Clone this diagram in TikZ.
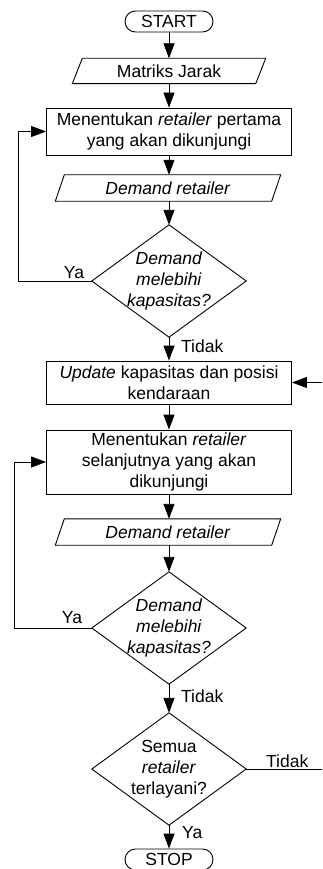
\documentclass[tikz,border=0pt]{standalone}
\usepackage{fontspec}
\setmainfont{Liberation Sans}
\usetikzlibrary{arrows.meta}
\begin{document}
\begin{tikzpicture}[x=1pt,y=-1pt,
  every node/.style={font=\fontsize{17.5}{21}\selectfont, inner sep=0pt},
  proc/.style={draw, rectangle, minimum width=245pt, align=center, line width=0.9pt},
  term/.style={draw, rectangle, rounded corners=10.5pt, minimum width=88pt, minimum height=21pt, line width=0.9pt},
  iobox/.style={rectangle, minimum width=#1, minimum height=25pt, align=center},
  decbox/.style={rectangle, minimum width=154pt, minimum height=112pt, align=center},
  shapeline/.style={line width=0.9pt},
  arr/.style={line width=0.9pt, -{Triangle[length=15pt,width=11pt]}},
  plain/.style={line width=0.9pt}]
\useasboundingbox (0,0) rectangle (322,869);

\node[term] (start) at (169,21.5) {START};
\node[iobox=183pt] (mat) at (169,71) {Matriks Jarak};
\draw[shapeline] ([xshift=5pt]mat.north west) -- ([xshift=5pt]mat.north east) -- ([xshift=-5pt]mat.south east) -- ([xshift=-5pt]mat.south west) -- cycle;

\node[proc, minimum height=47pt] (b1) at (169,131.5) {Menentukan \textit{retailer} pertama\\yang akan dikunjungi};

\node[iobox=216pt, minimum height=26pt] (dem1) at (168,188) {\textit{Demand retailer}};
\draw[shapeline] ([xshift=4.5pt]dem1.north west) -- ([xshift=4.5pt]dem1.north east) -- ([xshift=-4.5pt]dem1.south east) -- ([xshift=-4.5pt]dem1.south west) -- cycle;

\node[decbox] (d1) at (169,281) {\textit{Demand}\\\textit{melebihi}\\\textit{kapasitas?}};
\draw[shapeline] (d1.north) -- (d1.east) -- (d1.south) -- (d1.west) -- cycle;

\node[proc, minimum height=43pt] (upd) at (169,382.5) {\textit{Update} kapasitas dan posisi\\kendaraan};

\node[proc, minimum height=64pt] (b3) at (169,462) {Menentukan \textit{retailer}\\selanjutnya yang akan\\dikunjungi};

\node[iobox=216pt, minimum height=26pt] (dem2) at (168,532) {\textit{Demand retailer}};
\draw[shapeline] ([xshift=4.5pt]dem2.north west) -- ([xshift=4.5pt]dem2.north east) -- ([xshift=-4.5pt]dem2.south east) -- ([xshift=-4.5pt]dem2.south west) -- cycle;

\node[decbox] (d2) at (169,628) {\textit{Demand}\\\textit{melebihi}\\\textit{kapasitas?}};
\draw[shapeline] (d2.north) -- (d2.east) -- (d2.south) -- (d2.west) -- cycle;

\node[decbox] (d3) at (169,769) {Semua\\\textit{retailer}\\terlayani?};
\draw[shapeline] (d3.north) -- (d3.east) -- (d3.south) -- (d3.west) -- cycle;

\node[term] (stop) at (169,859.5) {STOP};

% vertical flow
\draw[arr] (start.south) -- (mat.north);
\draw[arr] (mat.south) -- (b1.north);
\draw[arr] (b1.south) -- (dem1.north -| b1.south);
\draw[arr] (dem1.south -| d1.north) -- (d1.north);
\draw[arr] (d1.south) -- (upd.north);
\draw[arr] (upd.south) -- (b3.north);
\draw[arr] (b3.south) -- (dem2.north -| b3.south);
\draw[arr] (dem2.south -| d2.north) -- (d2.north);
\draw[arr] (d2.south) -- (d3.north);
\draw[arr] (d3.south) -- (stop.north);

% loops
\coordinate (l1) at (18,281);
\draw[arr] (d1.west) -- (l1) |- (b1.west);
\coordinate (l2) at (14,628);
\draw[arr] (d2.west) -- (l2) |- (b3.west);

% right side
\coordinate (r1) at (322,382.5);
\draw[arr] (r1) -- (upd.east);
\coordinate (r2) at (322,769);
\draw[plain] (d3.east) -- (r2);

% labels
\node (ya1) at (74,273) {Ya};
\node (ya2) at (72,618) {Ya};
\node[anchor=west] (td1) at (181,346) {Tidak};
\node[anchor=west] (td2) at (181,696) {Tidak};
\node[anchor=west] (ya3) at (182,833) {Ya};
\node[anchor=west] (td3) at (266,761) {Tidak};
\end{tikzpicture}
\end{document}
